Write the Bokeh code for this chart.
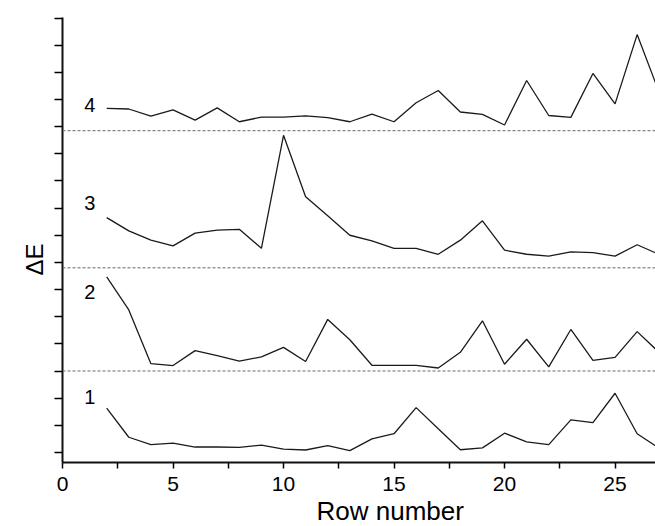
from bokeh.plotting import figure
from bokeh.models import Range1d, FixedTicker, CustomJSTickFormatter, Span, Title, ColumnDataSource
from bokeh.core.properties import value
from bokeh.embed import file_html
from bokeh.resources import INLINE

# ---- data ----
rows = list(range(2, 28))
series_names = ["1", "2", "3", "4"]
offsets = [0.0, 3.0, 6.8, 11.85]
de1 = [1.63, 0.56, 0.29, 0.34, 0.20, 0.20, 0.19, 0.27, 0.12, 0.09, 0.25, 0.07, 0.50,
       0.69, 1.65, 0.87, 0.10, 0.17, 0.71, 0.39, 0.29, 1.20, 1.10, 2.18, 0.69, 0.15]
de2 = [3.47, 2.25, 0.27, 0.20, 0.75, 0.57, 0.36, 0.52, 0.87, 0.35, 1.90, 1.15, 0.21,
       0.21, 0.21, 0.11, 0.69, 1.85, 0.25, 1.17, 0.15, 1.53, 0.39, 0.50, 1.45, 0.68]
de3 = [1.85, 1.36, 1.02, 0.81, 1.28, 1.39, 1.42, 0.72, 4.88, 2.62, 1.92, 1.20, 0.99,
       0.72, 0.72, 0.50, 1.02, 1.73, 0.65, 0.50, 0.43, 0.59, 0.56, 0.43, 0.85, 0.49]
de4 = [0.82, 0.80, 0.54, 0.77, 0.39, 0.84, 0.33, 0.50, 0.50, 0.55, 0.48, 0.33, 0.61,
       0.33, 1.03, 1.48, 0.69, 0.60, 0.21, 1.85, 0.56, 0.49, 2.11, 0.99, 3.54, 1.40]
x_ticks = [0, 5, 10, 15, 20, 25]
x_minor = [2.5, 7.5, 12.5, 17.5, 22.5]
y_ticks = list(range(0, 17))

FONT = "Liberation Sans"

p = figure(width=655, height=526, output_backend="svg", toolbar_location=None,
           x_range=Range1d(0, 26.83), y_range=Range1d(-0.37, 16.02),
           min_border_left=62, min_border_right=0, min_border_top=17, min_border_bottom=64)
p.outline_line_color = None
p.xgrid.visible = False
p.ygrid.visible = False
p.background_fill_color = "white"
p.border_fill_color = "white"

# x axis
xa = p.xaxis[0]
xa.ticker = FixedTicker(ticks=x_ticks, minor_ticks=x_minor)
xa.axis_line_width = 2
xa.axis_line_color = "#111111"
xa.major_tick_in = 0
xa.major_tick_out = 6
xa.minor_tick_in = 0
xa.minor_tick_out = 6
xa.major_tick_line_width = 1.5
xa.minor_tick_line_width = 1.5
xa.major_label_text_font = FONT
xa.major_label_text_font_size = "21px"
xa.major_label_text_color = "black"
xa.major_label_standoff = 8

# y axis
ya = p.yaxis[0]
ya.ticker = FixedTicker(ticks=y_ticks, minor_ticks=[])
ya.formatter = CustomJSTickFormatter(code="return ''")
ya.axis_line_width = 2
ya.axis_line_color = "#111111"
ya.major_tick_in = 0
ya.major_tick_out = 8
ya.major_tick_line_width = 1.5
ya.minor_tick_line_color = None
ya.major_label_standoff = 8

# axis titles
p.add_layout(Title(text="Row number", align="left", offset=254, standoff=0,
                   text_font=FONT, text_font_size="26px", text_font_style="normal",
                   text_baseline="alphabetic", text_color="black"), "below")
p.add_layout(Title(text="ΔE", align="left", offset=187, standoff=13,
                   text_font=FONT, text_font_size="24px", text_font_style="normal",
                   text_color="black"), "left")

# baselines
for off in offsets[1:]:
    p.add_layout(Span(location=off, dimension="width", line_color="#666666",
                      line_width=1, line_dash="3 2"))

# series
for vals, off in zip([de1, de2, de3, de4], offsets):
    p.line(rows, [v + off for v in vals], line_color="#1a1a1a", line_width=1.3)

# series labels
lab_src = ColumnDataSource(dict(x=[1.24, 1.24, 1.24, 1.24],
                                y=[2.03, 5.92, 9.20, 12.79],
                                t=series_names))
p.text(x="x", y="y", text="t", source=lab_src, text_font=value(FONT),
       text_font_size="20px", text_align="center", text_baseline="alphabetic",
       text_color="black")

open("out.html", "w").write(file_html(p, INLINE))
